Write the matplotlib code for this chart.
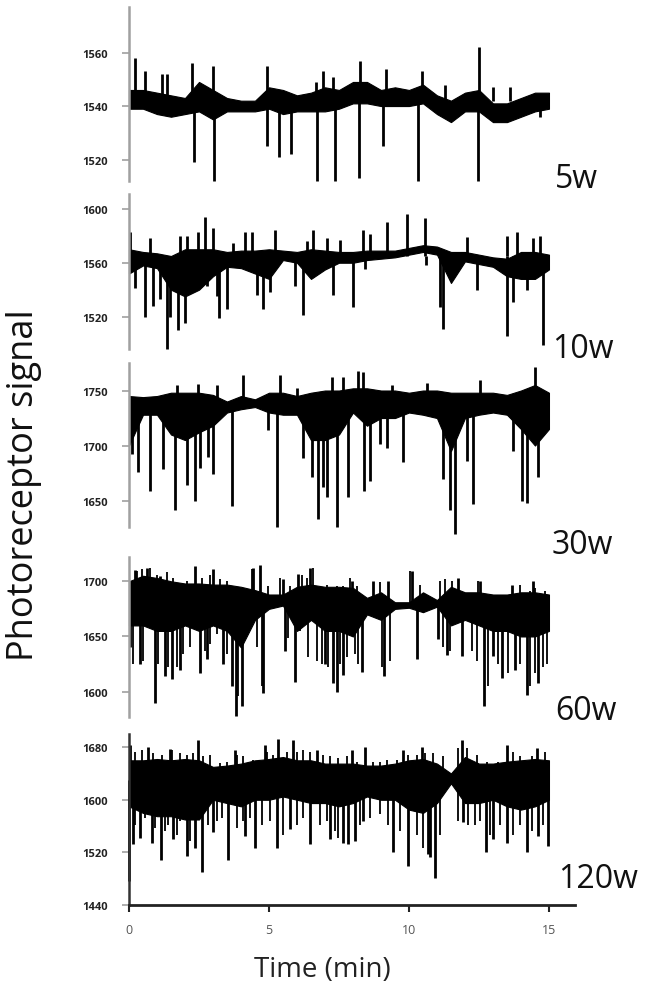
import numpy as np
import matplotlib
matplotlib.use("Agg")
import matplotlib.pyplot as plt

plt.rcParams['font.family'] = ['Open Sans', 'DejaVu Sans']

# ---------------- data ----------------
env_t = [0, 0.5, 1, 1.5, 2, 2.5, 3, 3.5, 4, 4.5, 5, 5.5, 6, 6.5, 7, 7.5,
         8, 8.5, 9, 9.5, 10, 10.5, 11, 11.5, 12, 12.5, 13, 13.5, 14, 14.5, 15]

labels = ["5w", "10w", "30w", "60w", "120w"]
baselines = [1542, 1565, 1738, 1680, 1630]

# 5w
w5_upper = [1546, 1546, 1545, 1544, 1543, 1549, 1546, 1543, 1542, 1542, 1547, 1546, 1544, 1545, 1547, 1546,
            1549, 1549, 1546, 1547, 1546, 1548, 1544, 1542, 1545, 1546, 1541, 1541, 1543, 1545, 1545]
w5_lower = [1539, 1539, 1537, 1536, 1537, 1538, 1535, 1538, 1538, 1538, 1539, 1537, 1538, 1538, 1538, 1539,
            1541, 1541, 1540, 1540, 1540, 1541, 1537, 1534, 1538, 1538, 1534, 1534, 1536, 1538, 1539]
w5_spike_t = [0.21, 0.57, 1.17, 1.37, 2.24, 2.32, 3.01, 3.05, 4.92, 4.94, 5.36, 5.77, 6.68, 6.71, 6.94,
              7.30, 7.37, 8.23, 8.25, 9.08, 9.17, 10.31, 10.45, 11.29, 12.48, 12.51, 13.01, 13.61, 14.68]
w5_spike_v = [1558, 1553, 1552, 1552, 1556, 1519, 1555, 1512, 1555, 1525, 1521, 1522, 1549, 1512, 1553,
              1551, 1512, 1513, 1557, 1525, 1554, 1512, 1553, 1548, 1512, 1562, 1547, 1547, 1536]

# 10w
w10_upper = [1570, 1568, 1567, 1565, 1570, 1570, 1570, 1568, 1569, 1569, 1570, 1569, 1568, 1570, 1569, 1568,
             1568, 1569, 1569, 1569, 1571, 1573, 1572, 1568, 1568, 1566, 1564, 1563, 1568, 1568, 1566]
w10_lower = [1552, 1558, 1556, 1540, 1535, 1540, 1550, 1557, 1556, 1552, 1548, 1562, 1560, 1548, 1555, 1560,
             1560, 1562, 1563, 1564, 1566, 1568, 1566, 1545, 1561, 1559, 1557, 1550, 1548, 1548, 1555]
w10_spike_t = [0.04, 0.21, 0.57, 0.75, 0.87, 1.11, 1.35, 1.46, 1.76, 1.82, 2.00, 2.06, 2.48, 2.71, 2.77,
               3.01, 3.13, 3.23, 3.49, 3.73, 4.14, 4.38, 4.56, 4.80, 5.04, 5.21, 5.93, 6.23, 6.35, 6.58,
               7.06, 7.30, 7.54, 8.01, 8.37, 8.43, 8.61, 9.20, 9.92, 10.57, 10.60, 11.11, 11.23, 12.06,
               12.42, 13.49, 13.51, 13.73, 13.85, 14.20, 14.44, 14.68, 14.77]
w10_spike_v = [1583, 1541, 1520, 1578, 1528, 1533, 1496, 1520, 1510, 1580, 1515, 1580, 1583, 1594, 1543,
               1586, 1535, 1519, 1526, 1575, 1583, 1583, 1536, 1526, 1538, 1584, 1543, 1521, 1576, 1584,
               1578, 1536, 1577, 1527, 1584, 1555, 1581, 1590, 1596, 1593, 1558, 1527, 1511, 1579,
               1540, 1580, 1506, 1531, 1583, 1540, 1578, 1580, 1499]

# 30w
w30_upper = [1745, 1744, 1745, 1748, 1748, 1748, 1746, 1740, 1745, 1742, 1748, 1748, 1745, 1748, 1750, 1750,
             1752, 1752, 1750, 1750, 1748, 1750, 1750, 1748, 1748, 1748, 1748, 1746, 1750, 1755, 1748]
w30_lower = [1700, 1728, 1728, 1710, 1705, 1712, 1718, 1730, 1733, 1735, 1730, 1728, 1728, 1705, 1705, 1710,
             1730, 1718, 1725, 1725, 1730, 1728, 1725, 1695, 1725, 1728, 1730, 1728, 1715, 1700, 1715]
w30_spike_t = [0.10, 0.33, 0.75, 1.23, 1.64, 1.70, 2.06, 2.36, 2.48, 2.54, 2.83, 3.01, 3.13, 3.67, 4.08,
               4.98, 5.27, 5.39, 5.99, 6.23, 6.52, 6.76, 6.94, 7.08, 7.24, 7.42, 7.65, 7.83, 8.19, 8.37,
               8.40, 8.61, 8.96, 9.20, 9.38, 9.80, 10.63, 11.23, 11.46, 11.64, 12.06, 12.30, 12.54,
               13.73, 14.02, 14.20, 14.50, 14.62]
w30_spike_v = [1692, 1676, 1659, 1679, 1641, 1755, 1664, 1650, 1756, 1680, 1690, 1674, 1755, 1645, 1764,
               1714, 1626, 1764, 1752, 1689, 1671, 1633, 1662, 1653, 1762, 1626, 1762, 1653, 1768, 1767,
               1659, 1668, 1701, 1698, 1755, 1685, 1757, 1670, 1641, 1620, 1686, 1647, 1760,
               1695, 1650, 1648, 1771, 1671]

# 60w
w60_upper = [1700, 1705, 1703, 1700, 1698, 1698, 1697, 1697, 1695, 1692, 1688, 1688, 1695, 1697, 1695, 1695,
             1694, 1685, 1690, 1681, 1681, 1690, 1683, 1695, 1690, 1690, 1688, 1688, 1690, 1690, 1688]
w60_lower = [1660, 1660, 1655, 1655, 1660, 1655, 1660, 1655, 1640, 1665, 1675, 1678, 1655, 1665, 1655, 1655,
             1650, 1670, 1665, 1675, 1676, 1672, 1677, 1660, 1665, 1660, 1655, 1655, 1650, 1650, 1655]
w60_spike_t = [0.04, 0.21, 0.39, 0.63, 0.93, 1.11, 1.29, 1.52, 1.82, 2.36, 2.54, 2.77, 3.01, 3.37, 3.67,
               3.81, 4.02, 4.44, 4.68, 4.80, 5.51, 5.57, 5.93, 6.05, 6.46, 7.00, 7.30, 7.42, 7.65, 7.95,
               8.31, 8.73, 9.11, 9.26, 10.10, 10.27, 11.05, 11.35, 11.76, 11.88, 12.54, 12.68, 13.01,
               13.31, 13.67, 13.79, 14.20, 14.44, 14.62]
w60_spike_v = [1640, 1710, 1625, 1712, 1590, 1705, 1614, 1611, 1620, 1714, 1617, 1630, 1711, 1625, 1605,
               1578, 1587, 1712, 1715, 1599, 1702, 1637, 1609, 1707, 1712, 1625, 1608, 1600, 1615, 1700,
               1618, 1700, 1614, 1700, 1709, 1630, 1648, 1633, 1703, 1632, 1700, 1587, 1632,
               1612, 1697, 1620, 1597, 1700, 1608]
w60_fine_t = [0.15, 0.51, 1.05, 1.40, 1.70, 1.94, 2.18, 2.71, 2.89, 3.13, 3.49, 3.90, 4.20, 4.56, 4.74,
              5.69, 6.11, 6.40, 6.70, 6.88, 7.12, 7.54, 7.77, 8.07, 8.19, 9.02, 9.32, 11.23, 11.46,
              12.24, 12.42, 12.83, 13.19, 13.55, 13.96, 14.32, 14.50, 14.80, 14.92,
              0.27, 0.45, 0.75, 0.99, 1.35, 1.58, 2.06, 2.60, 2.89, 3.25, 3.49, 4.38, 4.98, 5.39, 5.75,
              6.17, 6.35, 6.58, 7.06, 7.42, 7.65, 7.89, 8.13, 8.96, 10.04, 10.39, 11.11, 11.29, 11.52,
              12.48, 12.89, 13.13, 13.37, 13.61, 13.96, 14.32, 14.50, 14.86]
w60_fine_v = [1625, 1628, 1625, 1622, 1622, 1634, 1640, 1637, 1643, 1652, 1634, 1596, 1658, 1640, 1605,
              1649, 1655, 1631, 1628, 1625, 1622, 1625, 1631, 1634, 1625, 1622, 1628, 1640, 1637,
              1637, 1628, 1605, 1625, 1617, 1625, 1605, 1617, 1622, 1625,
              1709, 1711, 1712, 1706, 1708, 1703, 1700, 1703, 1706, 1702, 1700, 1711, 1696, 1703, 1696,
              1706, 1703, 1712, 1697, 1696, 1696, 1703, 1696, 1699, 1709, 1697, 1700, 1702, 1700,
              1700, 1685, 1688, 1688, 1688, 1697, 1691, 1694, 1691]

# 120w
w120_upper = [1660, 1660, 1662, 1660, 1662, 1660, 1650, 1652, 1655, 1660, 1662, 1665, 1660, 1660, 1655, 1655,
              1655, 1652, 1652, 1655, 1660, 1662, 1655, 1640, 1665, 1655, 1655, 1658, 1660, 1662, 1660]
w120_lower = [1590, 1580, 1575, 1575, 1570, 1570, 1600, 1595, 1590, 1600, 1600, 1605, 1600, 1595, 1595, 1590,
              1595, 1605, 1600, 1600, 1585, 1580, 1595, 1625, 1595, 1595, 1600, 1590, 1585, 1590, 1600]
w120_spike_t = [0.01, 0.04, 0.15, 0.39, 0.69, 0.81, 1.13, 1.46, 1.58, 2.06, 2.36, 2.48, 2.60, 3.01, 3.55,
                3.79, 4.14, 4.50, 4.86, 5.27, 5.33, 5.75, 5.87, 6.46, 6.70, 7.18, 7.65, 7.83, 7.95, 8.07,
                8.37, 8.43, 9.42, 9.80, 9.98, 10.45, 10.69, 10.75, 10.93, 11.88, 11.94, 12.75, 13.01,
                13.49, 13.50, 14.20, 14.56, 14.62, 14.98]
w120_spike_v = [1477, 1683, 1532, 1542, 1680, 1535, 1509, 1677, 1540, 1514, 1527, 1691, 1490, 1551, 1509,
                1676, 1545, 1527, 1683, 1527, 1693, 1556, 1691, 1532, 1676, 1540, 1535, 1532, 1676, 1537,
                1567, 1680, 1521, 1676, 1499, 1680, 1518, 1513, 1481, 1691, 1566, 1521, 1540,
                1683, 1535, 1521, 1678, 1545, 1530]
w120_fine_t = [0.21, 0.57, 0.93, 1.29, 1.40, 1.70, 1.82, 2.18, 2.83, 3.13, 3.31, 3.85, 4.08, 4.32, 4.74,
               5.04, 5.51, 5.99, 6.23, 6.82, 7.06, 7.36, 7.48, 8.25, 8.61, 8.96, 9.26, 9.68, 10.27, 10.51,
               11.11, 11.76, 12.12, 12.36, 12.54, 12.89, 13.25, 13.73, 13.96, 14.38, 14.80,
               0.21, 0.45, 0.87, 1.17, 1.52, 1.82, 2.06, 2.30, 2.65, 2.89, 3.25, 3.49, 3.85, 4.08, 4.44,
               4.92, 5.15, 5.63, 5.99, 6.23, 6.46, 6.94, 7.18, 7.48, 7.77, 8.13, 8.73, 8.96, 9.20, 9.56,
               9.98, 10.27, 10.57, 10.87, 11.23, 11.76, 12.06, 12.42, 12.77, 13.19, 13.73, 13.96, 14.38,
               14.86]
w120_fine_v = [1562, 1573, 1557, 1552, 1562, 1547, 1567, 1537, 1562, 1567, 1573, 1557, 1567, 1573, 1562,
               1567, 1547, 1562, 1573, 1562, 1567, 1552, 1542, 1562, 1573, 1578, 1562, 1552, 1547, 1527,
               1547, 1567, 1562, 1562, 1567, 1547, 1562, 1547, 1562, 1552, 1562,
               1673, 1676, 1671, 1668, 1676, 1671, 1668, 1671, 1666, 1668, 1656, 1658, 1668, 1666, 1661,
               1673, 1668, 1673, 1673, 1676, 1673, 1668, 1666, 1663, 1666, 1658, 1658, 1658, 1661, 1661,
               1668, 1668, 1671, 1671, 1666, 1678, 1678, 1668, 1658, 1658, 1673, 1666, 1666,
               1673]

uppers = [w5_upper, w10_upper, w30_upper, w60_upper, w120_upper]
lowers = [w5_lower, w10_lower, w30_lower, w60_lower, w120_lower]
spike_ts = [w5_spike_t, w10_spike_t, w30_spike_t, w60_spike_t, w120_spike_t]
spike_vs = [w5_spike_v, w10_spike_v, w30_spike_v, w60_spike_v, w120_spike_v]
fine_ts = [[], [], [], w60_fine_t, w120_fine_t]
fine_vs = [[], [], [], w60_fine_v, w120_fine_v]

yticks = [[1520, 1540, 1560], [1520, 1560, 1600], [1650, 1700, 1750], [1600, 1650, 1700],
          [1440, 1520, 1600, 1680]]
ylims = [(1512, 1577), (1496, 1611), (1626, 1775), (1577, 1722), (1440, 1700)]
xticks = [0, 5, 10, 15]

# ---------------- layout ----------------
W, H = 656, 995
fig = plt.figure(figsize=(W / 100, H / 100), dpi=100)
panel_px = [(8, 182), (195, 350), (364, 528), (558, 718), (735, 906)]
label_px = [(555, 180), (552, 350), (552, 545), (555, 712), (558, 880)]
left_px, right_px = 129, 575

for i, (top, bot) in enumerate(panel_px):
    ax = fig.add_axes([left_px / W, 1 - bot / H, (right_px - left_px) / W, (bot - top) / H])
    ax.fill_between(env_t, lowers[i], uppers[i], color='black', lw=0.8, clip_on=False)
    if fine_ts[i]:
        ax.vlines(fine_ts[i], baselines[i], fine_vs[i], color='black', lw=1.3, clip_on=False)
    ax.vlines(spike_ts[i], baselines[i], spike_vs[i], color='black', lw=2.0, clip_on=False)
    ax.set_xlim(0, 15.93)
    ax.set_ylim(*ylims[i])
    ax.set_yticks(yticks[i])
    ax.set_yticklabels([str(v) for v in yticks[i]])
    for s in ['top', 'right']:
        ax.spines[s].set_visible(False)
    ax.spines['left'].set_color('#a0a0a0' if i < 4 else '#333333')
    ax.spines['left'].set_linewidth(1.8)
    ax.tick_params(axis='y', direction='out', length=5, width=1.2, color='#a0a0a0',
                   labelsize=8, labelcolor='#222222', pad=10)
    for lab in ax.get_yticklabels():
        lab.set_fontweight('bold')
    if i < 4:
        ax.spines['bottom'].set_visible(False)
        ax.set_xticks([])
    else:
        ax.spines['bottom'].set_color('#222222')
        ax.spines['bottom'].set_linewidth(2.0)
        ax.set_xticks(xticks)
        ax.set_xticklabels([str(v) for v in xticks])
        ax.tick_params(axis='x', direction='out', length=5, width=1.5, color='#222222',
                       labelsize=9, labelcolor='#555555', pad=8)
    fig.text(label_px[i][0] / W, 1 - label_px[i][1] / H, labels[i], fontsize=23,
             ha='left', va='center', color='#111111')

fig.text(24 / W, 1 - 485 / H, "Photoreceptor signal", rotation=90, fontsize=26,
         ha='center', va='center', color='#111111')
fig.text(322 / W, 1 - 970 / H, "Time (min)", fontsize=20, ha='center', va='center',
         color='#222222')

fig.savefig("out.png", dpi=100, facecolor='white')
